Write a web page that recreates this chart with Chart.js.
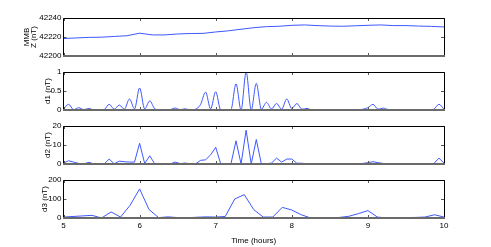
<!DOCTYPE html>
<html>
<head>
<meta charset="utf-8">
<script src="https://cdn.jsdelivr.net/npm/chart.js@4.4.1/dist/chart.umd.min.js"></script>
<style>
  body { margin: 0; background: #fff; }
  #wrap { position: relative; width: 491px; height: 247px; overflow: hidden; }
  .panel { position: absolute; left: 0; }
</style>
</head>
<body>
<div id="wrap"></div>
<script>
// time grids (hours)
const makeTimes = (start, step, n) => new Array(n).fill(null).map((_, i) => start + i * step);

const zTimes = makeTimes(5, 1 / 6, 31);
const dTimes = makeTimes(5, 1 / 15, 76);
const d3Times = makeTimes(5, 1 / 8, 41);

// MMB Z component (nT)
const zValues = [42218.4, 42219.0, 42219.6, 42219.8, 42220.6, 42221.3, 42224.0, 42222.2, 42222.2, 42223.2,
  42223.7, 42223.8, 42225.3, 42226.5, 42228.2, 42229.8, 42230.9, 42231.3, 42232.3, 42232.7,
  42232.0, 42231.5, 42231.3, 42231.8, 42232.3, 42232.7, 42232.0, 42232.0, 42231.5, 42231.2, 42230.6];

const d1Values = [0.02, 0.15, 0.01, 0.06, 0.01, 0.04, 0, 0, 0.01, 0.15,
  0.02, 0.13, 0.02, 0.29, 0.03, 0.58, 0.03, 0.24, 0.03, 0,
  0, 0.01, 0.05, 0.01, 0.03, 0, 0.02, 0.14, 0.47, 0.03,
  0.48, 0, 0, 0.01, 0.69, 0, 1.0, 0, 0.7, 0.02,
  0.2, 0.03, 0.17, 0.02, 0.29, 0.04, 0.17, 0.02, 0.04, 0,
  0, 0, 0.01, 0, 0, 0.01, 0, 0.01, 0, 0.02,
  0.06, 0.15, 0.02, 0.05, 0.01, 0, 0.01, 0, 0, 0.01,
  0, 0.01, 0, 0.02, 0.15, 0.02];

const d2Values = [0.5, 1.7, 1.0, 0.3, 0, 0.9, 0, 0, 0, 2.6,
  0.1, 1.5, 1.2, 1.0, 1.0, 10.9, 0.3, 4.3, 0, 0,
  0, 0, 1.0, 0.2, 0.5, 0, 0, 1.9, 2.2, 4.8,
  8.8, 0, 0, 0, 12.2, 0, 17.8, 0, 12.9, 0,
  0.1, 0.5, 3.1, 1.0, 2.6, 2.6, 0.4, 0.4, 0.1, 0,
  0, 0, 0.1, 0, 0, 0, 0.1, 0, 0, 0.3,
  0.7, 1.2, 0.7, 0.3, 0, 0, 0, 0.1, 0, 0,
  0, 0, 0, 0.2, 3.1, 0.5];

const d3Values = [5, 8, 11, 14, 0, 32, 5, 67, 153, 44,
  2, 6, 2, 1, 4, 6, 5, 8, 100, 123,
  44, 5, 5, 56, 42, 17, 0, 0, 1, 3,
  9, 23, 39, 5, 0, 0, 2, 3, 5, 17, 5];

const xTickLabels = [5, 6, 7, 8, 9, 10];

const LINE = 'rgb(62,88,255)';
const FONT = "'Liberation Sans', Arial, sans-serif";

const panels = [
  { top: 18, times: zTimes, values: zValues, min: 42200, max: 42240, step: 20,
    title: ['MMB', 'Z (nT)'], titleX: 26.7, lineHeight: 0.83, smooth: false },
  { top: 72, times: dTimes, values: d1Values, min: 0, max: 1, step: 0.5,
    title: 'd1 (nT)', titleX: 47.5, lineHeight: 1.2, smooth: true },
  { top: 126, times: dTimes, values: d2Values, min: 0, max: 20, step: 10,
    title: 'd2 (nT)', titleX: 48, lineHeight: 1.2, smooth: false },
  { top: 180, times: d3Times, values: d3Values, min: 0, max: 200, step: 100,
    title: 'd3 (nT)', titleX: 44.5, lineHeight: 1.2, smooth: false, bottom: true },
];

const PANEL_H = 38;
const PAD_TOP = 10;
const AXIS_LEFT = 63.5;
const PAD_RIGHT = 47;

// box + inward tick marks, matlab style
const framePlugin = {
  id: 'frame',
  afterDatasetsDraw(chart) {
    const { ctx, chartArea: a, scales } = chart;
    ctx.save();
    ctx.lineWidth = 1;
    ctx.strokeStyle = '#555';
    ctx.beginPath();
    scales.x.ticks.forEach((t) => {
      const x = Math.round(scales.x.getPixelForValue(t.value)) + 0.5;
      ctx.moveTo(x, a.top); ctx.lineTo(x, a.top + 3);
      ctx.moveTo(x, a.bottom); ctx.lineTo(x, a.bottom - 3);
    });
    scales.y.ticks.forEach((t) => {
      const y = Math.round(scales.y.getPixelForValue(t.value)) + 0.5;
      ctx.moveTo(a.left, y); ctx.lineTo(a.left + 3, y);
      ctx.moveTo(a.right, y); ctx.lineTo(a.right - 3, y);
    });
    ctx.stroke();

    ctx.strokeStyle = '#000';
    ctx.beginPath();
    const l = Math.floor(a.left) + 0.5, r = Math.floor(a.right) + 0.5;
    const t = Math.round(a.top) + 0.5;
    ctx.moveTo(l, a.bottom); ctx.lineTo(l, t); ctx.lineTo(r, t); ctx.lineTo(r, a.bottom);
    ctx.stroke();

    ctx.strokeStyle = '#6a6a6a';
    ctx.lineWidth = 2;
    ctx.beginPath();
    ctx.moveTo(l - 0.5, Math.round(a.bottom)); ctx.lineTo(r + 0.5, Math.round(a.bottom));
    ctx.stroke();
    ctx.restore();
  },
};

const wrap = document.getElementById('wrap');

panels.forEach((p) => {
  const axisH = p.bottom ? 247 - (p.top + PANEL_H) : 0;
  const h = PAD_TOP + PANEL_H + (p.bottom ? axisH : 10);
  const div = document.createElement('div');
  div.className = 'panel';
  div.style.top = (p.top - PAD_TOP) + 'px';
  const canvas = document.createElement('canvas');
  canvas.width = 491;
  canvas.height = h;
  canvas.style.width = '491px';
  canvas.style.height = h + 'px';
  div.appendChild(canvas);
  wrap.appendChild(div);

  const points = p.values.map((v, i) => ({ x: p.times[i], y: v }));

  new Chart(canvas.getContext('2d'), {
    type: 'line',
    data: {
      datasets: [{
        data: points,
        borderColor: LINE,
        borderWidth: 1,
        pointRadius: 0,
        fill: false,
        tension: 0,
        cubicInterpolationMode: p.smooth ? 'monotone' : 'default',
      }],
    },
    options: {
      responsive: false,
      animation: false,
      devicePixelRatio: 1,
      layout: { padding: { left: 0, right: PAD_RIGHT, top: PAD_TOP, bottom: p.bottom ? 0 : 10 } },
      plugins: { legend: { display: false }, tooltip: { enabled: false } },
      scales: {
        x: {
          type: 'linear',
          min: 5,
          max: 10,
          display: p.bottom ? true : false,
          grid: { display: false, drawTicks: false },
          border: { display: false },
          afterBuildTicks: (scale) => { scale.ticks = xTickLabels.map((v) => ({ value: v })); },
          ticks: {
            color: '#000', padding: 3, maxRotation: 0, font: { family: FONT, size: 8 },
            callback: (v) => String(v),
          },
          title: {
            display: p.bottom ? true : false,
            text: 'Time (hours)',
            color: '#000',
            padding: { top: 0, bottom: 1 },
            font: { family: FONT, size: 8 },
          },
          afterFit: (scale) => { scale.height = axisH; },
        },
        y: {
          min: p.min,
          max: p.max,
          grid: { display: false, drawTicks: false },
          border: { display: false },
          ticks: {
            stepSize: p.step, color: '#000', padding: 2, font: { family: FONT, size: 8 },
            callback: (v) => String(v),
          },
          title: {
            display: true,
            text: p.title,
            color: '#000',
            padding: { top: p.titleX - (8 * p.lineHeight) / 2, bottom: 0 },
            font: { family: FONT, size: 8, lineHeight: p.lineHeight },
          },
          afterFit: (scale) => { scale.width = AXIS_LEFT; },
        },
      },
    },
    plugins: [framePlugin],
  });
});
</script>
</body>
</html>
